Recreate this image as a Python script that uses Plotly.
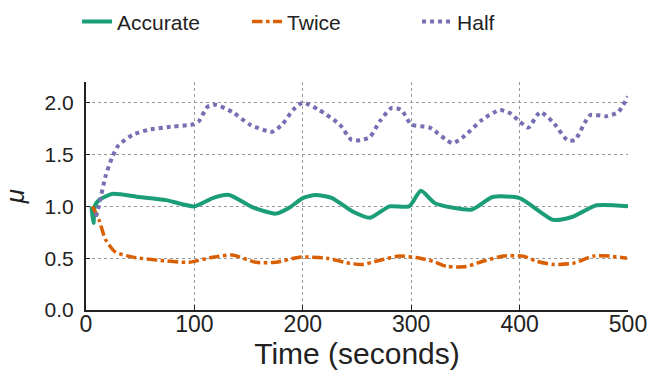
import plotly.graph_objects as go

# Accurate (green)
acc_t = [5, 7, 8, 12, 24, 49, 74, 100, 117, 132, 154, 175, 188, 200, 212, 227, 246, 262, 280, 298, 309, 322, 356, 375, 400, 431, 449, 471, 500]
acc_v = [1.0, 0.84, 1.0, 1.06, 1.12, 1.09, 1.06, 1.0, 1.08, 1.11, 0.99, 0.93, 0.99, 1.08, 1.11, 1.08, 0.95, 0.89, 1.0, 1.0, 1.15, 1.03, 0.97, 1.09, 1.08, 0.87, 0.9, 1.01, 1.0]

# Twice (orange)
tw_t = [6, 12, 18, 27, 43, 67, 95, 117, 135, 157, 175, 197, 222, 243, 255, 271, 289, 308, 320, 333, 351, 366, 385, 403, 416, 431, 449, 468, 483, 499]
tw_v = [1.0, 0.87, 0.68, 0.56, 0.51, 0.48, 0.46, 0.51, 0.53, 0.46, 0.46, 0.51, 0.5, 0.45, 0.44, 0.48, 0.52, 0.5, 0.47, 0.42, 0.42, 0.47, 0.52, 0.52, 0.47, 0.44, 0.45, 0.52, 0.52, 0.5]

# Half (purple)
hf_t = [9, 12, 18, 24, 30, 43, 58, 80, 98, 104, 112, 120, 135, 151, 172, 181, 191, 200, 215, 234, 245, 254, 262, 271, 282, 291, 300, 317, 338, 348, 366, 382, 391, 400, 408, 419, 431, 444, 451, 465, 480, 491, 500]
hf_v = [0.9, 1.01, 1.29, 1.47, 1.59, 1.69, 1.74, 1.77, 1.79, 1.82, 1.96, 1.98, 1.91, 1.79, 1.72, 1.79, 1.93, 2.0, 1.93, 1.79, 1.64, 1.64, 1.67, 1.82, 1.95, 1.93, 1.79, 1.76, 1.61, 1.67, 1.84, 1.93, 1.9, 1.82, 1.76, 1.91, 1.81, 1.64, 1.64, 1.88, 1.87, 1.91, 2.06]

x_ticks = [0, 100, 200, 300, 400, 500]
y_ticks = [0.0, 0.5, 1.0, 1.5, 2.0]

FONT = "Liberation Sans, Arial, sans-serif"

fig = go.Figure()
fig.add_trace(go.Scatter(x=acc_t, y=acc_v, mode="lines", name="Accurate",
                         line=dict(color="#1b9e77", width=4, shape="spline", smoothing=0.6)))
fig.add_trace(go.Scatter(x=tw_t, y=tw_v, mode="lines", name="Twice",
                         line=dict(color="#d95f02", width=3.5, dash="dashdot", shape="spline", smoothing=0.6)))
fig.add_trace(go.Scatter(x=hf_t, y=hf_v, mode="lines", name="Half",
                         line=dict(color="#7570b3", width=4, dash="dot", shape="spline", smoothing=0.6)))

fig.update_layout(
    width=653, height=378,
    margin=dict(l=86, r=25, t=82, b=68),
    paper_bgcolor="white", plot_bgcolor="white",
    font=dict(family=FONT, color="#222", size=18),
    legend=dict(orientation="h", x=0.118, y=0.942, xref="container", yref="container",
                xanchor="left", yanchor="middle", entrywidth=125,
                font=dict(size=21, family=FONT, color="#222")),
    xaxis=dict(range=[0, 500], tickvals=x_ticks, ticktext=[str(v) for v in x_ticks],
               automargin=False, ticklabelstandoff=-8,
               showgrid=True, gridcolor="#999", griddash="dot", gridwidth=1,
               showline=True, linecolor="#222", linewidth=2, ticks="inside", ticklen=5,
               tickcolor="#222", zeroline=False, tickfont=dict(size=23),
               title=dict(text="Time (seconds)", font=dict(size=30), standoff=5)),
    yaxis=dict(range=[0, 2.2], tickvals=y_ticks, ticktext=["%.1f" % v for v in y_ticks],
               automargin=False, ticklabelstandoff=6,
               showgrid=True, gridcolor="#999", griddash="dot", gridwidth=1,
               showline=True, linecolor="#222", linewidth=2, ticks="inside", ticklen=4,
               tickcolor="#222", zeroline=False, tickfont=dict(size=21),
               title=dict(text="<i>μ</i>", font=dict(size=26), standoff=12)),
)

fig.write_html("out.html", config={"displayModeBar": False},
               post_script="document.body.style.margin='0px';")
